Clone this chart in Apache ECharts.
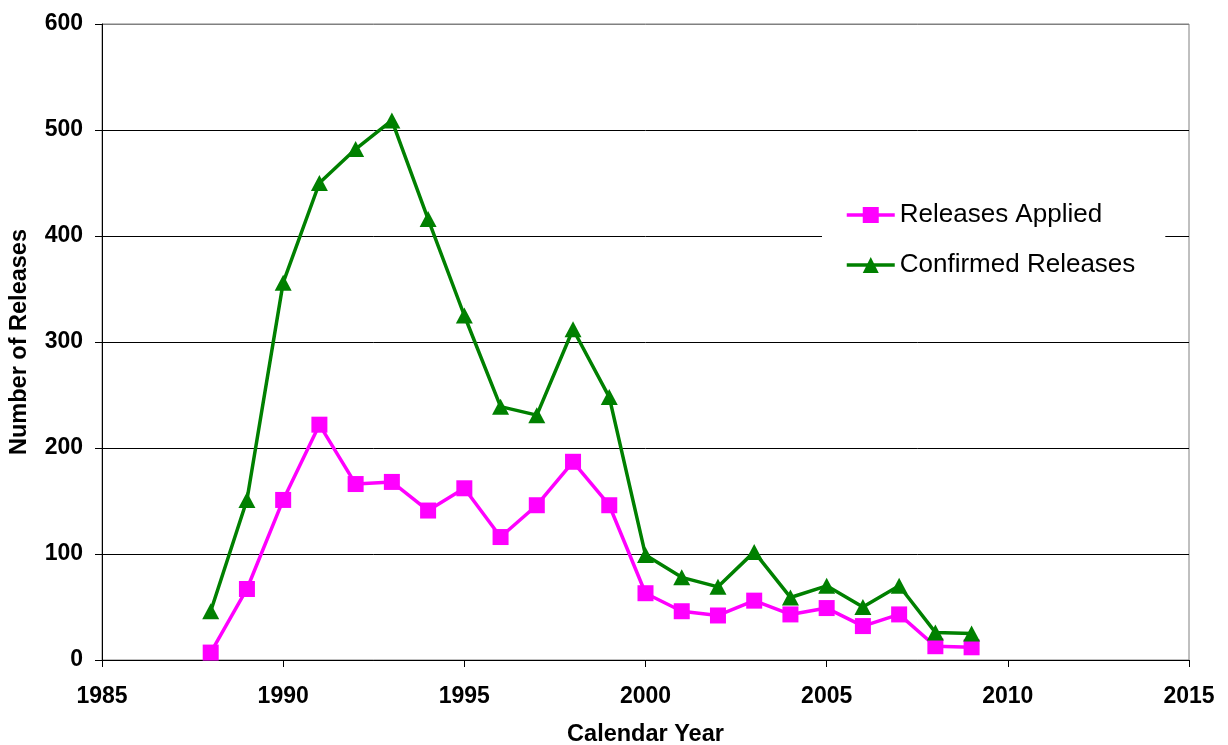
<!DOCTYPE html>
<html>
<head>
<meta charset="utf-8">
<script src="https://cdn.jsdelivr.net/npm/echarts@6/dist/echarts.min.js"></script>
<style>html,body{margin:0;padding:0;background:#fff}#c{width:1228px;height:745px}</style>
</head>
<body>
<div id="c"></div>
<script>
const years = [1988,1989,1990,1991,1992,1993,1994,1995,1996,1997,1998,1999,2000,2001,2002,2003,2004,2005,2006,2007,2008,2009];
const releasesApplied = [7,67,151,222,166,168,141,162,116,146,187,146,63,46,42,56,43,49,32,43,13,12];
const confirmedReleases = [46,151,356,450,482,509,416,325,239,231,312,248,99,78,69,102,59,70,50,70,26,25];
const seriesNames = ['Releases Applied','Confirmed Releases'];
const xAxisTitle = 'Calendar Year';
const yAxisTitle = 'Number of Releases';

const font = 'Arial, "Liberation Sans", sans-serif';
const chart = echarts.init(document.getElementById('c'), null, {renderer:'canvas'});
const pairs = arr => years.map((y,i)=>[y,arr[i]]);
chart.setOption({
  animation:false,
  backgroundColor:'#fff',
  grid:{left:102,right:39,top:24,bottom:85,show:true,borderColor:'#808080',borderWidth:1,backgroundColor:'transparent',
        containLabel:false,outerBoundsMode:'none'},
  legend:{
    orient:'vertical', left:822, top:182,
    backgroundColor:'#fff', padding:[20,30,20,23],
    itemWidth:48, itemHeight:20, itemGap:24,
    lineStyle:{width:3.5},
    textStyle:{fontFamily:font,fontSize:26,color:'#000',padding:[0,0,0,0]},
    data:seriesNames
  },
  xAxis:{
    type:'value', min:1985, max:2015, interval:5,
    name:xAxisTitle, nameLocation:'middle', nameGap:63,
    nameTextStyle:{fontFamily:font,fontSize:23.5,fontWeight:'bold',color:'#000'},
    axisLine:{show:true,lineStyle:{color:'#000',width:1}},
    axisTick:{show:true,inside:false,length:7,lineStyle:{color:'#000'}},
    axisLabel:{fontFamily:font,fontSize:23,fontWeight:'bold',color:'#000',margin:25,formatter:v=>String(v)},
    splitLine:{show:false}
  },
  yAxis:{
    type:'value', min:0, max:600, interval:100,
    name:yAxisTitle, nameLocation:'middle', nameGap:70, nameRotate:90,
    nameTextStyle:{fontFamily:font,fontSize:23.5,fontWeight:'bold',color:'#000'},
    axisLine:{show:true,lineStyle:{color:'#000',width:1}},
    axisTick:{show:true,inside:false,length:7,lineStyle:{color:'#000'}},
    axisLabel:{fontFamily:font,fontSize:23,fontWeight:'bold',color:'#000',margin:19},
    splitLine:{show:true,lineStyle:{color:['#000','#000','#000','#000','#000','#000','#808080'],width:1}}
  },
  series:[
    {name:seriesNames[0],type:'line',data:pairs(releasesApplied),symbol:'rect',symbolSize:16,
     lineStyle:{color:'#FF00FF',width:3.5},itemStyle:{color:'#FF00FF'},z:2},
    {name:seriesNames[1],type:'line',data:pairs(confirmedReleases),symbol:'triangle',symbolSize:[17,16],
     lineStyle:{color:'#008000',width:3.5},itemStyle:{color:'#008000'},z:3}
  ]
});
</script>
</body>
</html>
